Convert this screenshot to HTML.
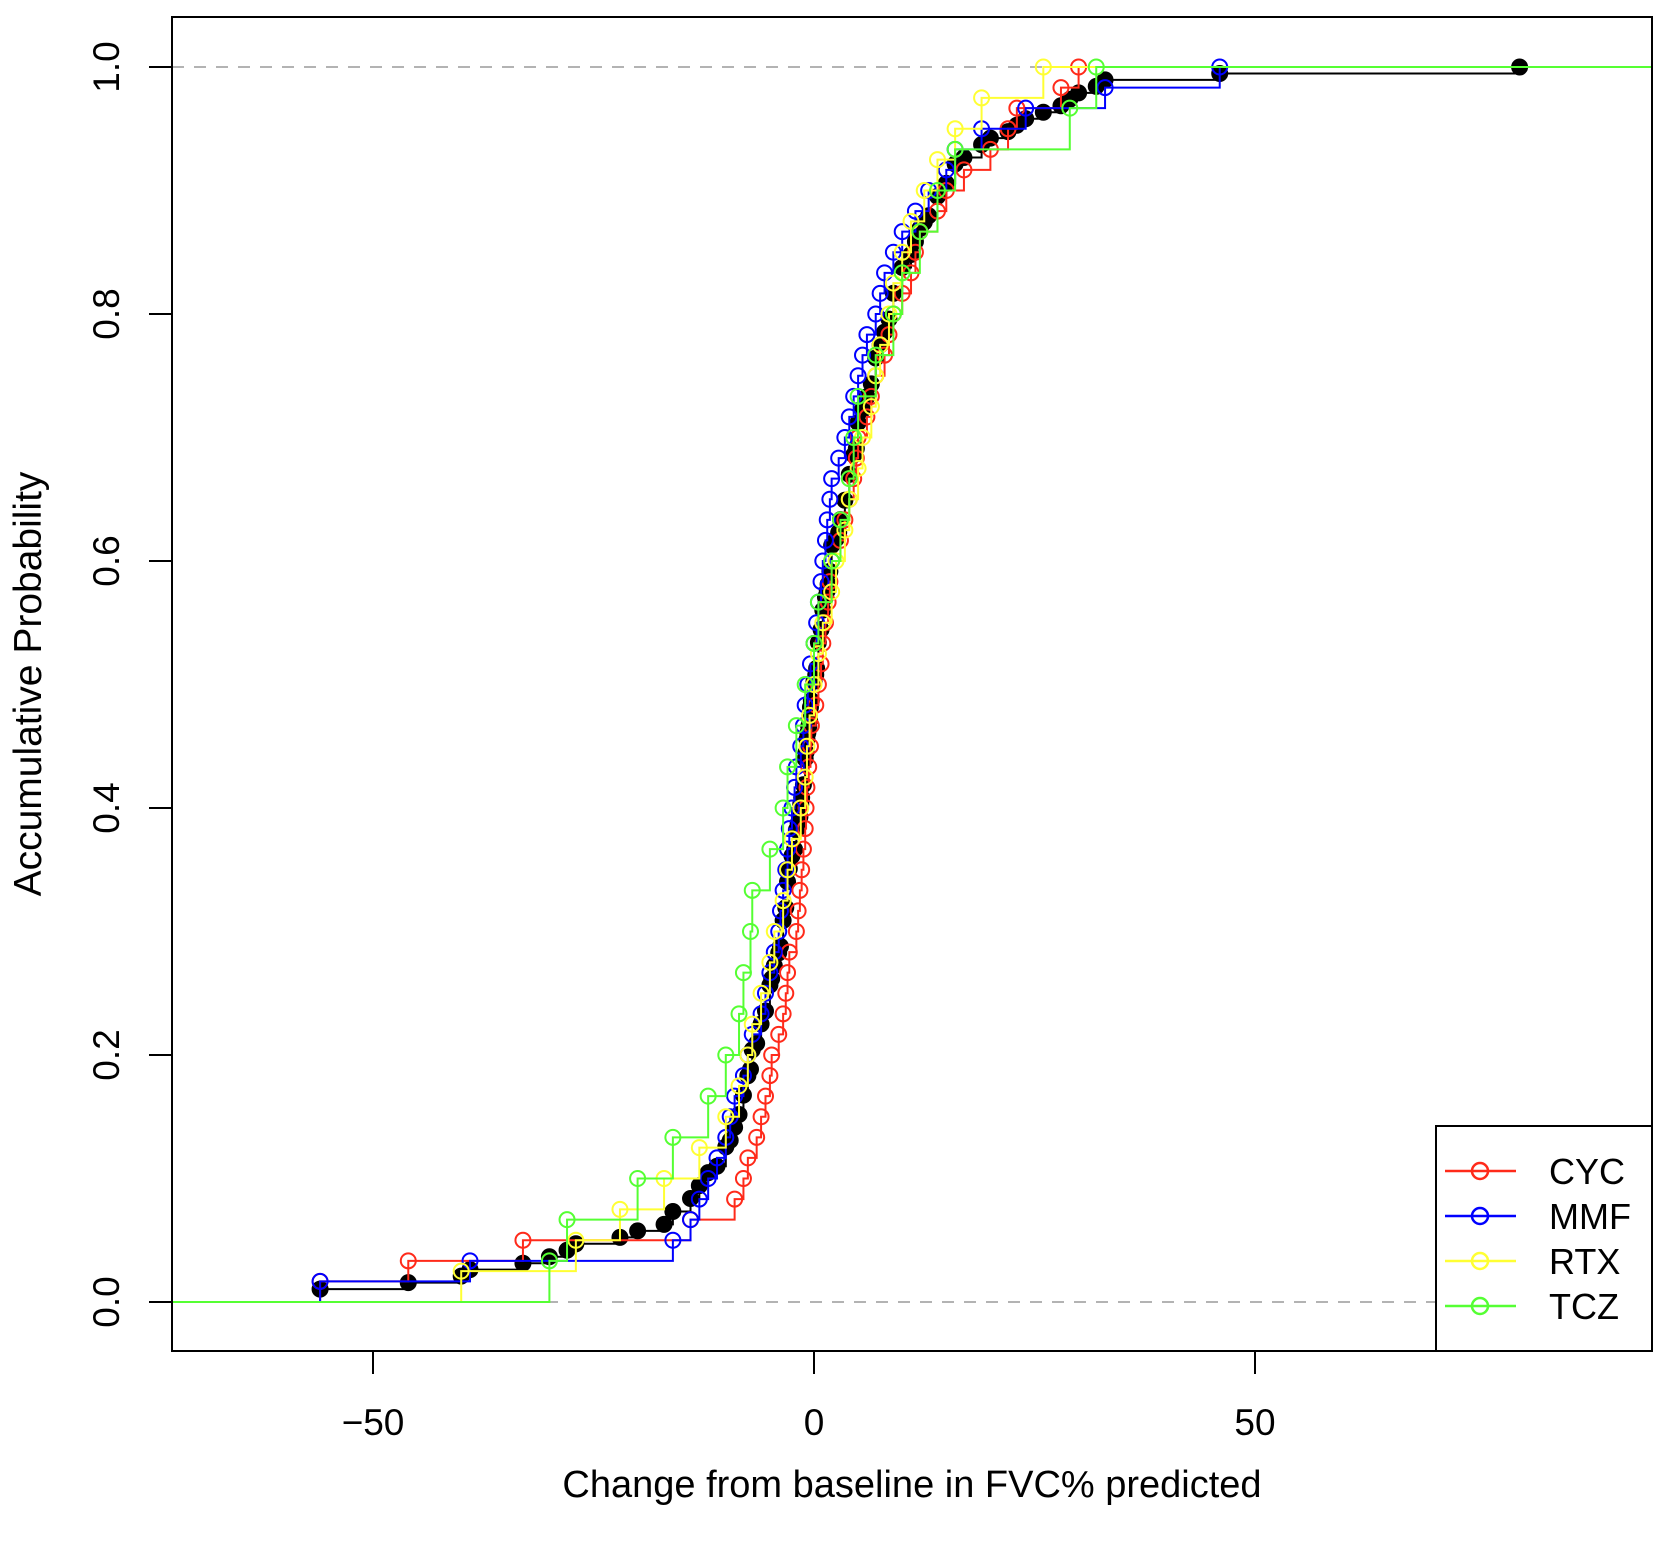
<!DOCTYPE html>
<html><head><meta charset="utf-8"><style>
html,body{margin:0;padding:0;background:#fff}
svg text{font-family:"Liberation Sans",Arial,sans-serif;fill:#000}
</style></head><body>
<svg id="chart" width="1658" height="1538" viewBox="0 0 1658 1538" xmlns="http://www.w3.org/2000/svg">
<rect x="0" y="0" width="1658" height="1538" fill="#fff"/>
<g id="grid"></g>
<g id="series"></g>
<g id="axes"></g>
<g id="legend"></g>
</svg>
<script>
const groupNames = ["CYC","MMF","RTX","TCZ"];
const groupColors = ["#ff2a1a","#0000ff","#ffff33","#55ff33"];
const cycValues = [-56,-46,-33,-14,-9,-8,-7.5,-6.5,-6,-5.5,-5,-4.8,-4,-3.5,-3.2,-3,-2.8,-2,-1.8,-1.6,-1.4,-1.2,-1,-0.9,-0.8,-0.6,-0.4,-0.3,0.2,0.5,0.8,1,1.3,1.6,1.8,2,3,3.5,4,4.5,4.8,5,6,6.5,7,8,8.5,9,10,11,11.5,12,14,15,17,20,22,23,28,30];
const mmfValues = [-56,-39,-16,-14,-13,-12,-11,-10,-9.5,-9,-8,-7.5,-7,-6,-5.5,-5,-4.5,-4,-3.8,-3.5,-3.2,-3,-2.8,-2.5,-2.2,-2,-1.5,-1.2,-1,-0.7,-0.4,0,0.3,0.5,0.8,1,1.3,1.5,1.8,2,2.8,3.5,4,4.5,5,5.5,6,7,7.5,8,9,10,11.5,13,15,16,19,24,33,46];
const rtxValues = [-40,-27,-22,-17,-13,-10,-8.5,-7.5,-7,-6,-5,-4.5,-3.5,-3,-2.5,-1.5,-1,-0.8,-0.5,0,0.5,1,2,2.5,3.5,4,5,5.5,6.5,7,7.5,8.5,9,10,11,12.5,14,16,19,26];
const tczValues = [-30,-28,-20,-16,-12,-10,-8.5,-8,-7.2,-7,-5,-3.5,-3,-2,-1,0,0.5,2,3,4,4.5,5,7,9,10,12,14,16,29,32];
const otherValues = [80];
const xTicks = [-50,0,50];
const yTicks = [0,0.2,0.4,0.6,0.8,1.0];
const yTickLabels = ["0.0","0.2","0.4","0.6","0.8","1.0"];

const L=172,R=1652,T=17,B=1351;
const X0=814, XS=8.82;
const xScale=v=>X0+v*XS;
const yScale=p=>1302-p*(1302-67);
const NS="http://www.w3.org/2000/svg";
function mk(tag,attrs,parent){const e=document.createElementNS(NS,tag);for(const k in attrs)e.setAttribute(k,attrs[k]);parent.appendChild(e);return e;}

const grid=document.getElementById('grid');
[0,1].forEach(p=>{
  const l=mk('line',{x1:L,x2:R,y1:yScale(p),y2:yScale(p),stroke:'#b3b3b3','stroke-width':2,'stroke-dasharray':'12,10'},grid);
  
  
});

const series=document.getElementById('series');
function drawEcdf(vals,color,filled,name){
  const g=mk('g',{},series);
  
  
  const s=vals.slice().sort((a,b)=>a-b);
  const n=s.length;
  const uniq=[];const cum=[];
  s.forEach((v,i)=>{if(uniq.length&&uniq[uniq.length-1]===v){cum[cum.length-1]=(i+1)/n;}else{uniq.push(v);cum.push((i+1)/n);}});
  let d=`M${L} ${yScale(0)}`;
  uniq.forEach((v,i)=>{d+=` H${xScale(v)} V${yScale(cum[i])}`;});
  d+=` H${R}`;
  const p=mk('path',{d:d,fill:'none',stroke:filled?'#000':color,'stroke-width':2},g);
  
  
  uniq.forEach((v,i)=>{
    const c=mk('circle',{cx:xScale(v),cy:yScale(cum[i]),r:7.5,fill:filled?'#000':'none',stroke:filled?'#000':color,'stroke-width':2},g);
    
    
  });
}
const pooled=[].concat(cycValues,mmfValues,rtxValues,tczValues,otherValues);
drawEcdf(pooled,'#000',true,'pooled-ecdf');
[cycValues,mmfValues,rtxValues,tczValues].forEach((v,i)=>drawEcdf(v,groupColors[i],false,groupNames[i].toLowerCase()+'-ecdf'));

const axes=document.getElementById('axes');
const frame=mk('rect',{x:L,y:T,width:R-L,height:B-T,fill:'none',stroke:'#000','stroke-width':2},axes);


xTicks.forEach(v=>{
  const t=mk('line',{x1:xScale(v),x2:xScale(v),y1:B,y2:B+23,stroke:'#000','stroke-width':2},axes);
  
  
  const tx=mk('text',{x:xScale(v),y:1435,'text-anchor':'middle','font-size':37},axes);
  tx.textContent=v<0?'\u2212'+Math.abs(v):String(v);
  
  
});
yTicks.forEach((v,i)=>{
  const t=mk('line',{x1:L-23,x2:L,y1:yScale(v),y2:yScale(v),stroke:'#000','stroke-width':2},axes);
  
  
  const yy=yScale(v);
  const tx=mk('text',{x:0,y:0,'text-anchor':'middle','font-size':37,transform:`translate(119 ${yy}) rotate(-90)`},axes);
  tx.textContent=yTickLabels[i];
  
  
});
const xt=mk('text',{x:(L+R)/2,y:1497,'text-anchor':'middle','font-size':38},axes);
xt.textContent='Change from baseline in FVC% predicted';


const yt=mk('text',{x:0,y:0,'text-anchor':'middle','font-size':39,transform:`translate(41 ${(T+B)/2}) rotate(-90)`},axes);
yt.textContent='Accumulative Probability';



const legend=document.getElementById('legend');
const lb=mk('rect',{x:1436,y:1126,width:216,height:225,fill:'#fff',stroke:'#000','stroke-width':2},legend);


groupNames.forEach((nm,i)=>{
  const y=1171+i*45;
  const g=mk('g',{},legend);
  
  
  mk('line',{x1:1445,x2:1516,y1:y,y2:y,stroke:groupColors[i],'stroke-width':2.5},g);
  mk('circle',{cx:1480,cy:y,r:8,fill:'none',stroke:groupColors[i],'stroke-width':2.5},g);
  const t=mk('text',{x:1549,y:y+13,'font-size':36},g);
  t.textContent=nm;
});
</script>
</body></html>
